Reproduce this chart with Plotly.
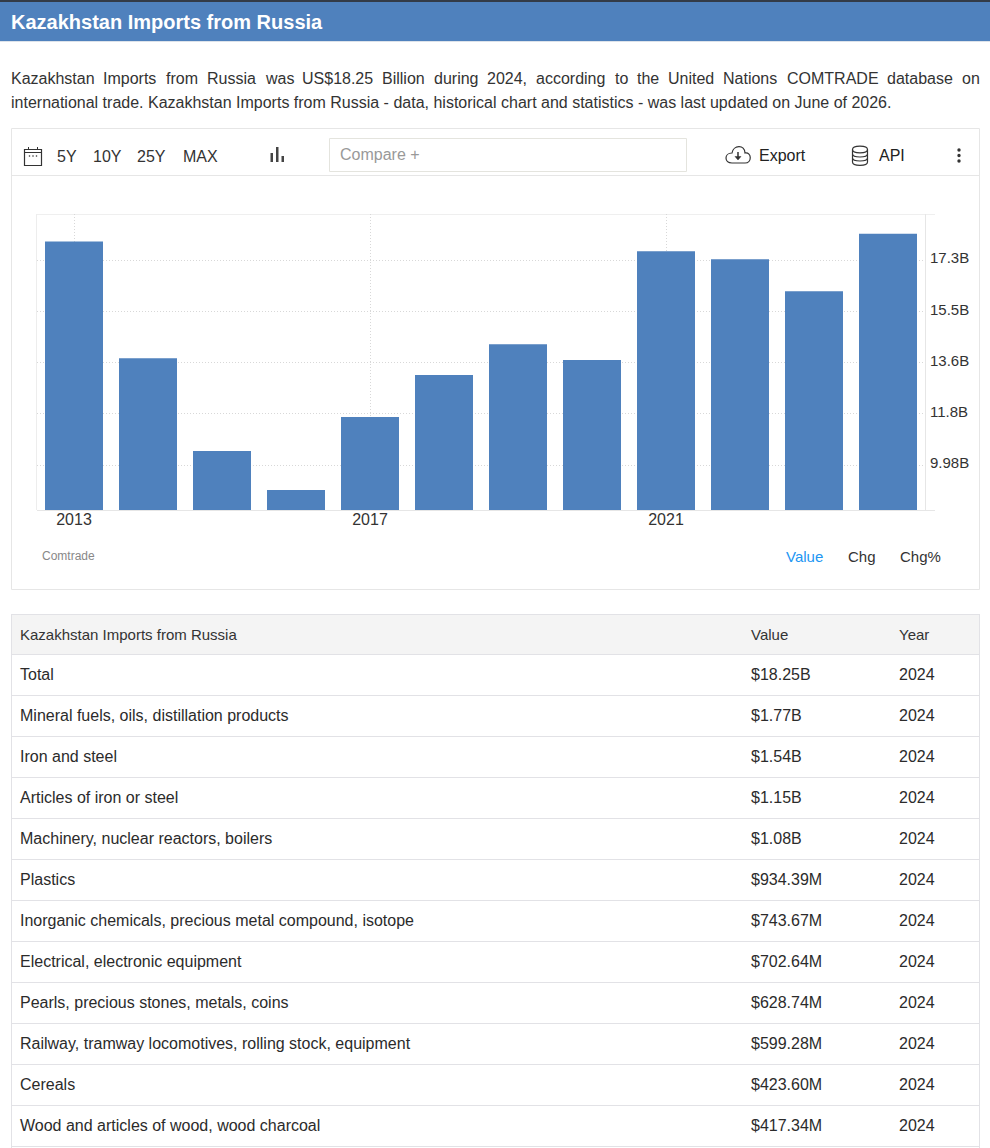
import plotly.graph_objects as go

years = list(range(2013, 2025))
imports_bn = [17.98, 13.80, 10.48, 9.09, 11.70, 13.20, 14.30, 13.74, 17.63, 17.34, 16.20, 18.25]
y_tick_vals = [9.98, 11.81, 13.64, 15.47, 17.30]
y_tick_text = ["9.98B", "11.8B", "13.6B", "15.5B", "17.3B"]
x_tick_vals = [2013, 2017, 2021]

table_header = ["Kazakhstan Imports from Russia", "Value", "Year"]
table_items = ["Total", "Mineral fuels, oils, distillation products", "Iron and steel",
               "Articles of iron or steel", "Machinery, nuclear reactors, boilers", "Plastics",
               "Inorganic chemicals, precious metal compound, isotope", "Electrical, electronic equipment",
               "Pearls, precious stones, metals, coins", "Railway, tramway locomotives, rolling stock, equipment",
               "Cereals", "Wood and articles of wood, wood charcoal"]
table_values = ["$18.25B", "$1.77B", "$1.54B", "$1.15B", "$1.08B", "$934.39M", "$743.67M",
                "$702.64M", "$628.74M", "$599.28M", "$423.60M", "$417.34M"]
table_years = ["2024"] * 12

line1_words = ["Kazakhstan", "Imports", "from", "Russia", "was", "US$18.25", "Billion", "during", "2024,",
               "according", "to", "the", "United", "Nations", "COMTRADE", "database", "on"]
line1_x = [10.8, 103.3, 165.6, 206.6, 264.5, 302, 382.1, 433.8, 487.3, 536.3, 614.7, 637, 668.2, 723.4, 786.6, 887.2, 962]
line2 = "international trade. Kazakhstan Imports from Russia - data, historical chart and statistics - was last updated on June of 2026."

W, H = 990, 1148
FONT = "Liberation Sans, Arial, sans-serif"
BLUE = "#4F81BD"
BORDER = "#E6E6E6"
ROW_TEXT = "#2B2B2B"

def px(x): return x / W
def py(y): return 1 - y / H

shapes, annos = [], []

def rect(x0, y0, x1, y1, fill=None, line=None, lw=1):
    shapes.append(dict(type="rect", xref="paper", yref="paper", x0=px(x0), x1=px(x1), y0=py(y0), y1=py(y1),
                       fillcolor=fill or "rgba(0,0,0,0)",
                       line=dict(color=line or "rgba(0,0,0,0)", width=lw if line else 0), layer="below"))

def line(x0, y0, x1, y1, color=BORDER, lw=1, layer="below"):
    shapes.append(dict(type="line", xref="paper", yref="paper", x0=px(x0), x1=px(x1), y0=py(y0), y1=py(y1),
                       line=dict(color=color, width=lw), layer=layer))

def path(cmds, color="#333333", lw=1.2, fill=None):
    out = []
    for c in cmds:
        if isinstance(c, str):
            out.append(c)
        else:
            out.append(f"{px(c[0]):.5f},{py(c[1]):.5f}")
    shapes.append(dict(type="path", xref="paper", yref="paper", path=" ".join(out),
                       line=dict(color=color, width=lw), fillcolor=fill or "rgba(0,0,0,0)", layer="above"))

def circle(cx, cy, r, color="#333333"):
    shapes.append(dict(type="circle", xref="paper", yref="paper", x0=px(cx - r), x1=px(cx + r),
                       y0=py(cy + r), y1=py(cy - r), fillcolor=color, line=dict(width=0), layer="above"))

def text(x, y, s, size=16, color="#333333", bold=False):
    annos.append(dict(xref="paper", yref="paper", x=px(x), y=py(y), text=f"<b>{s}</b>" if bold else s,
                      showarrow=False, xanchor="left", yanchor="middle", borderpad=0, borderwidth=0,
                      font=dict(family=FONT, size=size, color=color)))

# header band
rect(0, 0, 990, 2, fill="#333B47")
rect(0, 2, 990, 41, fill=BLUE)
line(0, 41.5, 990, 41.5, color="#DDE3EA")
text(11, 22, "Kazakhstan Imports from Russia", 20, "#FFFFFF", True)

# description
for wd, x in zip(line1_words, line1_x):
    text(x, 78.5, wd, 16)
text(10.8, 102, line2, 16)

# chart container
rect(11.5, 128.5, 979.5, 589.5, line=BORDER)
line(12, 175.5, 979, 175.5)
rect(329.5, 138.5, 686.5, 171.5, line="#E4E4DE")

# toolbar texts
for lbl, x in [("5Y", 57), ("10Y", 93), ("25Y", 137), ("MAX", 183)]:
    text(x, 156.5, lbl, 16)
text(340, 154.5, "Compare +", 16, "#999999")
text(759, 155.5, "Export", 16, "#222222")
text(879, 155.5, "API", 16, "#222222")

# calendar icon
path(["M", (24.5, 149.5), "L", (41.5, 149.5), "L", (41.5, 165.5), "L", (24.5, 165.5), "Z"])
path(["M", (24.5, 152.5), "L", (41.5, 152.5)], lw=1)
path(["M", (28.5, 147), "L", (28.5, 150)], lw=1)
path(["M", (37.5, 147), "L", (37.5, 150)], lw=1)
for cx in (29.5, 33, 36.5):
    circle(cx, 156, 0.8)
# bars icon
rect(270.5, 153, 273, 162, fill="#444444")
rect(276, 147, 278.5, 162, fill="#444444")
rect(281.5, 156, 284, 162, fill="#444444")
# cloud icon
path(["M", (732, 163), "C", (724, 163), (724, 153), (732, 153),
      "C", (733, 145), (745, 144), (745, 153),
      "C", (752, 152), (752, 163), (745, 163), "Z"], lw=1.2)
path(["M", (738, 152), "L", (738, 158)], lw=1.5)
path(["M", (735, 156.5), "L", (741, 156.5), "L", (738, 160), "Z"], lw=0.5, fill="#333333")
# database icon
path(["M", (852.5, 149.5), "C", (852.5, 145), (867.5, 145), (867.5, 149.5),
      "C", (867.5, 154), (852.5, 154), (852.5, 149.5), "Z"])
path(["M", (852.5, 149.5), "L", (852.5, 162), "C", (852.5, 166.5), (867.5, 166.5), (867.5, 162), "L", (867.5, 149.5)])
path(["M", (852.5, 154), "C", (852.5, 158), (867.5, 158), (867.5, 154)])
path(["M", (852.5, 158), "C", (852.5, 162), (867.5, 162), (867.5, 158)])
# kebab
for cy in (150, 155.5, 161):
    circle(959, cy, 1.7)

# footer of chart
text(42, 556, "Comtrade", 12, "#888888")
text(785.5, 556.5, "Value", 15, "#2196F3")
text(848, 556.5, "Chg", 15)
text(900, 556.5, "Chg%", 15)

# chart frame details
line(37, 214.5, 935, 214.5, color="#EFEFEF")
line(37, 510.5, 935, 510.5, color="#E6E6E6")
line(36.5, 214, 36.5, 510, color="#EDEDED")
line(925.5, 214, 925.5, 510, color="#E6E6E6")

# y tick labels, positioned by the y scale (the reference sets them slightly above their gridlines)
for v, t in zip(y_tick_vals, y_tick_text):
    annos.append(dict(xref="paper", yref="y", x=px(929.5), y=v, yshift=2.5, text=t, showarrow=False,
                      xanchor="left", yanchor="middle", borderpad=0, borderwidth=0,
                      font=dict(family=FONT, size=15, color="#333333")))

# table frame
rect(12, 614, 980, 655, fill="#F4F4F4")
line(11.5, 614, 11.5, 1148, color="#E2E2E6")
line(979.5, 614, 979.5, 1148, color="#E2E2E6")
line(12, 614.5, 979, 614.5, color="#E2E2E6")
for i in range(13):
    line(12, 654.5 + 41 * i, 979, 654.5 + 41 * i, color="#E2E2E6")
for lbl, x in zip(table_header, (20, 751, 899)):
    text(x, 634.5, lbl, 15)

bars = go.Bar(x=years, y=imports_bn, marker=dict(color=BLUE, line=dict(width=0)), width=58 / 74,
              showlegend=False, hoverinfo="x+y")

row_idx = list(range(len(table_items)))
table_traces = [
    go.Scatter(x=[col] * len(vals), y=row_idx, text=vals, mode="text", textposition="middle right",
               textfont=dict(family=FONT, size=16, color=ROW_TEXT), xaxis="x2", yaxis="y2",
               showlegend=False, hoverinfo="skip", cliponaxis=False)
    for col, vals in ((20, table_items), (751, table_values), (899, table_years))
]

fig = go.Figure([bars] + table_traces)
fig.update_layout(
    width=W, height=H, autosize=False, template="none", showlegend=False,
    margin=dict(l=0, r=0, t=0, b=0, pad=0),
    paper_bgcolor="#FFFFFF", plot_bgcolor="rgba(0,0,0,0)",
    shapes=shapes, annotations=annos,
    font=dict(family=FONT, color="#333333"),
    xaxis=dict(domain=[px(37), px(925)], range=[2012.5, 2024.5], tickmode="array", tickvals=x_tick_vals, ticks="",
               showgrid=True, griddash="1px,2px", gridcolor="#D8D8D8", gridwidth=1, zeroline=False, showline=False,
               ticklabelstandoff=-2, tickfont=dict(family=FONT, size=16, color="#333333")),
    yaxis=dict(domain=[py(510), py(214)], range=[8.37, 18.96], side="right", tickmode="array",
               tickvals=y_tick_vals, showticklabels=False,
               ticks="", showgrid=True, griddash="1px,2px", gridcolor="#D8D8D8", gridwidth=1, zeroline=False, showline=False),
    xaxis2=dict(domain=[0, 1], range=[0, W], visible=False, anchor="y2"),
    yaxis2=dict(domain=[0, py(654.5)], range=[(1148 - 675.5) / 41, (654.5 - 675.5) / 41], visible=False, anchor="x2"),
)
fig.write_html("out.html", config=dict(displayModeBar=False),
               post_script="document.body.style.margin='0';document.documentElement.style.overflow='hidden';")
